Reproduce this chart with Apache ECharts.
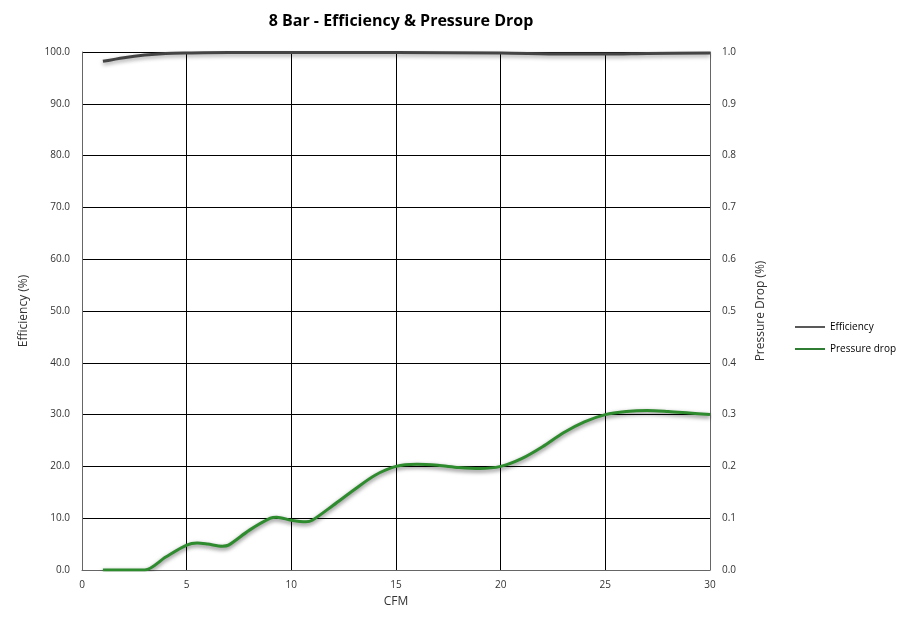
<!DOCTYPE html>
<html><head><meta charset="utf-8">
<script src="https://cdn.jsdelivr.net/npm/echarts@6/dist/echarts.min.js"></script>
<style>html,body{margin:0;padding:0;background:#fff}#c{width:900px;height:619px}</style>
</head><body><div id="c"></div>
<script>
const titleText = '8 Bar - Efficiency & Pressure Drop';
const cfmEff = [1, 2, 3, 4, 5, 7, 10, 15, 20, 23, 25, 27, 30];
const efficiency = [98.2, 98.9, 99.4, 99.7, 99.8, 99.9, 99.9, 99.9, 99.8, 99.6, 99.6, 99.7, 99.8];
const cfmPd = [1, 2, 3, 4, 5, 5.5, 6, 6.7, 7, 8, 9, 9.3, 10, 10.7, 11, 12, 13, 14, 15, 16, 17, 18, 19, 20, 21, 22, 23, 24, 25, 26, 27, 28, 29, 30];
const pressureDrop = [0.0, 0.0, 0.0, 0.025, 0.048, 0.052, 0.05, 0.046, 0.048, 0.077, 0.1, 0.102, 0.096, 0.093, 0.096, 0.125, 0.155, 0.183, 0.2, 0.204, 0.202, 0.198, 0.196, 0.2, 0.215, 0.238, 0.265, 0.286, 0.3, 0.306, 0.308, 0.306, 0.303, 0.3];

const font = '"Open Sans", "Liberation Sans", sans-serif';
const chart = echarts.init(document.getElementById('c'));
chart.setOption({
  animation: false,
  backgroundColor: '#fff',
  title: { text: titleText, left: 396, top: 8, textAlign: 'center',
    textStyle: { fontFamily: font, fontSize: 16, fontWeight: 'bold', color: '#000' } },
  grid: { left: 82, right: 190, top: 52, bottom: 49 },
  legend: {
    orient: 'vertical', left: 790, top: 317, itemGap: 12, itemWidth: 30, itemHeight: 2,
    icon: 'rect',
    textStyle: { fontFamily: font, fontSize: 10, color: '#000' },
    data: ['Efficiency', 'Pressure drop']
  },
  xAxis: {
    type: 'value', min: 0, max: 30, interval: 5,
    name: 'CFM', nameLocation: 'middle', nameGap: 26,
    nameTextStyle: { fontFamily: font, fontSize: 12, color: '#333' },
    axisLine: { show: true, lineStyle: { color: '#666', width: 1 } },
    axisTick: { show: false },
    axisLabel: { fontFamily: font, fontSize: 10, color: '#333', margin: 10 },
    splitLine: { show: true, lineStyle: { color: '#000', width: 1 } }
  },
  yAxis: [{
    type: 'value', min: 0, max: 100, interval: 10, position: 'left',
    name: 'Efficiency (%)', nameLocation: 'middle', nameGap: 52, nameRotate: 90,
    nameTextStyle: { fontFamily: font, fontSize: 12, color: '#333' },
    axisLine: { show: true, lineStyle: { color: '#666' } },
    axisTick: { show: false },
    axisLabel: { fontFamily: font, fontSize: 10, color: '#333', margin: 12, formatter: v => v.toFixed(1) },
    splitLine: { show: true, lineStyle: { color: '#000', width: 1 } }
  }, {
    type: 'value', min: 0, max: 1, interval: 0.1, position: 'right',
    name: 'Pressure Drop (%)', nameLocation: 'middle', nameGap: 45, nameRotate: 90,
    nameTextStyle: { fontFamily: font, fontSize: 12, color: '#333' },
    axisLine: { show: true, lineStyle: { color: '#666' } },
    axisTick: { show: false },
    axisLabel: { fontFamily: font, fontSize: 10, color: '#333', margin: 12, formatter: v => v.toFixed(1) },
    splitLine: { show: false }
  }],
  series: [{
    name: 'Efficiency', type: 'line', yAxisIndex: 0, smooth: 0.3, showSymbol: false,
    data: cfmEff.map((x, i) => [x, efficiency[i]]),
    itemStyle: { color: '#595959' },
    lineStyle: { color: '#444', width: 3, shadowColor: 'rgba(0,0,0,0.4)', shadowBlur: 4, shadowOffsetY: 2 }
  }, {
    name: 'Pressure drop', type: 'line', yAxisIndex: 1, smooth: 0.3, showSymbol: false,
    data: cfmPd.map((x, i) => [x, pressureDrop[i]]),
    itemStyle: { color: '#2e7d32' },
    lineStyle: { color: '#2e8b2e', width: 3, shadowColor: 'rgba(0,0,0,0.55)', shadowBlur: 4, shadowOffsetY: 2 }
  }]
});
</script></body></html>
